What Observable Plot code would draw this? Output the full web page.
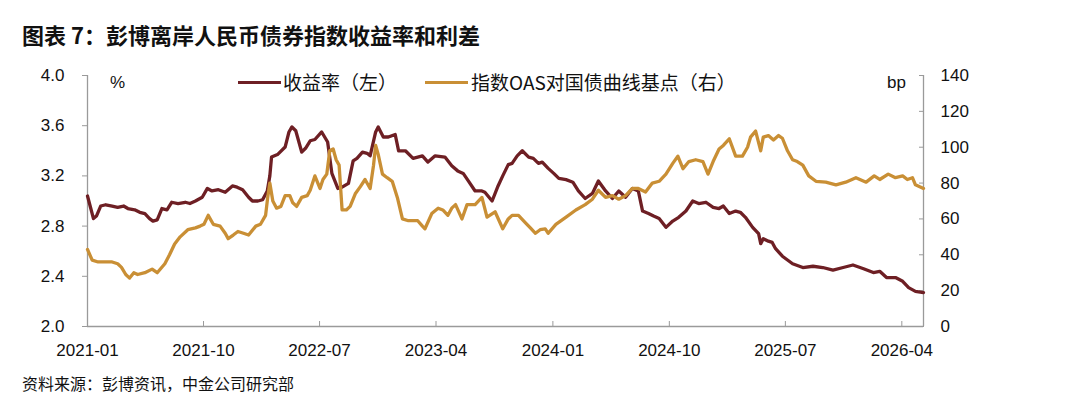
<!DOCTYPE html>
<html><head><meta charset="utf-8">
<script src="https://cdn.jsdelivr.net/npm/d3@7"></script>
<script src="https://cdn.jsdelivr.net/npm/@observablehq/plot@0.6"></script>
<style>
body{margin:0;background:#fff;}
#wrap{position:relative;width:1080px;height:413px;overflow:hidden;font-family:"Liberation Sans","Noto Sans CJK SC",sans-serif;}
.abs{position:absolute;white-space:nowrap;line-height:1;}
#title{left:22px;top:23px;font-size:22px;font-weight:bold;font-family:"Noto Sans CJK SC",sans-serif;color:#111;}
#chart{position:absolute;left:0;top:56px;}
.leg{font-size:19px;font-family:"Noto Sans CJK SC",sans-serif;color:#111;top:72px;}
.sw{position:absolute;height:3px;top:81px;width:43px;}
#src{left:22px;top:375px;font-size:16px;font-family:"Noto Sans CJK SC",sans-serif;color:#111;}
.unit{font-size:17px;top:74px;color:#111;}
</style></head>
<body><div id="wrap">
<div id="title" class="abs">图表 7：彭博离岸人民币债券指数收益率和利差</div>
<div id="chart"></div>
<div class="sw" style="left:238px;background:#6e1f24"></div>
<div class="abs leg" style="left:283px">收益率（左）</div>
<div class="sw" style="left:425px;background:#c98f35"></div>
<div class="abs leg" style="left:471px">指数OAS对国债曲线基点（右）</div>
<div class="abs unit" style="left:110px">%</div>
<div class="abs unit" style="left:887px">bp</div>
<div id="src" class="abs">资料来源：彭博资讯，中金公司研究部</div>
</div>
<script>
const yieldDates = ["2021-01-01","2021-01-08","2021-01-15","2021-01-22","2021-02-01","2021-02-13","2021-02-28","2021-03-13","2021-03-27","2021-04-06","2021-04-22","2021-05-04","2021-05-16","2021-05-27","2021-06-04","2021-06-14","2021-06-25","2021-07-07","2021-07-18","2021-08-02","2021-08-19","2021-08-30","2021-09-12","2021-09-28","2021-10-10","2021-10-21","2021-11-05","2021-11-21","2021-12-08","2021-12-19",
"2022-01-01","2022-01-15","2022-01-24","2022-02-06","2022-02-17","2022-02-28","2022-03-06","2022-03-10","2022-03-24","2022-04-11","2022-04-20","2022-04-27","2022-05-06","2022-05-20","2022-05-29","2022-06-09","2022-06-20","2022-07-06","2022-07-20","2022-07-30","2022-08-06","2022-08-13","2022-08-23","2022-09-07","2022-09-18","2022-09-27","2022-10-10","2022-10-21","2022-10-28","2022-11-10","2022-11-16","2022-11-28","2022-12-10","2022-12-26",
"2023-01-03","2023-01-19","2023-02-06","2023-02-17","2023-02-28","2023-03-13","2023-03-30","2023-04-22","2023-05-08","2023-05-22","2023-06-04","2023-06-16","2023-07-02","2023-07-18","2023-07-25","2023-08-11","2023-08-25","2023-09-05","2023-09-18","2023-09-27","2023-10-09","2023-10-21","2023-11-05","2023-11-16","2023-11-28","2023-12-07","2023-12-21",
"2024-01-03","2024-01-15","2024-02-01","2024-02-17","2024-03-01","2024-03-17","2024-04-03","2024-04-17","2024-05-04","2024-05-20","2024-06-04","2024-06-20","2024-07-06","2024-07-20","2024-07-30","2024-08-13","2024-08-25","2024-09-07","2024-09-23","2024-10-09","2024-10-23","2024-11-09","2024-11-25","2024-12-09","2024-12-26",
"2025-01-12","2025-01-26","2025-02-05","2025-02-19","2025-03-06","2025-03-17","2025-03-29","2025-04-15","2025-04-29","2025-05-04","2025-05-10","2025-05-22","2025-05-31","2025-06-08","2025-06-24","2025-07-06","2025-07-18","2025-08-11","2025-09-04","2025-09-27","2025-10-21","2025-11-14","2025-12-07",
"2026-01-01","2026-01-24","2026-02-08","2026-02-24","2026-03-17","2026-04-03","2026-04-17","2026-05-03","2026-05-22"];
const yieldValues = [3.04,2.95,2.86,2.88,2.96,2.97,2.96,2.95,2.96,2.94,2.93,2.91,2.90,2.86,2.84,2.85,2.94,2.93,2.99,2.98,2.99,2.98,3.00,3.03,3.10,3.08,3.09,3.07,3.12,3.11,
3.09,3.03,3.00,3.00,3.01,3.08,3.20,3.35,3.37,3.43,3.55,3.59,3.56,3.39,3.42,3.48,3.49,3.55,3.47,3.22,3.16,3.10,3.11,3.14,3.32,3.34,3.39,3.38,3.36,3.55,3.59,3.51,3.51,3.53,
3.40,3.40,3.34,3.35,3.36,3.31,3.36,3.35,3.28,3.24,3.22,3.16,3.08,3.08,3.07,3.00,3.12,3.20,3.29,3.30,3.36,3.40,3.35,3.34,3.30,3.31,3.26,
3.22,3.18,3.17,3.15,3.08,3.02,3.06,3.16,3.08,3.02,3.08,3.03,3.10,3.08,2.92,2.90,2.88,2.86,2.79,2.84,2.87,2.92,3.00,2.98,2.99,
2.95,2.94,2.96,2.90,2.92,2.91,2.87,2.79,2.74,2.66,2.70,2.68,2.67,2.62,2.56,2.53,2.50,2.47,2.48,2.47,2.45,2.47,2.49,
2.46,2.43,2.44,2.39,2.39,2.36,2.31,2.28,2.27];

const oasDates = ["2021-01-01","2021-01-12","2021-01-26","2021-02-13","2021-02-28","2021-03-13","2021-03-22","2021-04-01","2021-04-10","2021-04-20","2021-04-29","2021-05-16","2021-06-02","2021-06-14","2021-07-02","2021-07-13","2021-07-25","2021-08-07","2021-08-25","2021-09-12","2021-09-23","2021-10-02","2021-10-12","2021-10-24","2021-11-09","2021-11-21","2021-11-28","2021-12-10","2021-12-21",
"2022-01-03","2022-01-15","2022-02-01","2022-02-12","2022-02-24","2022-03-01","2022-03-06","2022-03-13","2022-03-22","2022-04-01","2022-04-11","2022-04-22","2022-04-29","2022-05-08","2022-05-20","2022-06-02","2022-06-09","2022-06-20","2022-07-02","2022-07-09","2022-07-18","2022-07-25","2022-08-02","2022-08-09","2022-08-16","2022-08-23","2022-09-02","2022-09-11","2022-09-23","2022-10-05","2022-10-16","2022-10-28","2022-11-05","2022-11-10","2022-11-16","2022-11-26","2022-12-07","2022-12-19","2022-12-31",
"2023-01-12","2023-01-26","2023-02-17","2023-02-28","2023-03-06","2023-03-22","2023-04-06","2023-04-17","2023-04-29","2023-05-08","2023-05-17","2023-06-01","2023-06-13","2023-07-02","2023-07-18","2023-07-30","2023-08-18","2023-09-05","2023-09-18","2023-09-27","2023-10-12","2023-10-28","2023-11-09","2023-11-21","2023-12-02","2023-12-14","2023-12-21",
"2024-01-08","2024-02-01","2024-02-24","2024-03-17","2024-04-03","2024-04-17","2024-05-04","2024-05-20","2024-06-04","2024-06-20","2024-07-06","2024-07-20","2024-08-06","2024-08-22","2024-09-07","2024-09-23","2024-10-09","2024-10-21","2024-11-02","2024-11-16","2024-12-02","2024-12-19","2024-12-31",
"2025-01-12","2025-01-26","2025-02-05","2025-02-19","2025-03-06","2025-03-22","2025-04-03","2025-04-10","2025-04-22","2025-05-04","2025-05-10","2025-05-22","2025-06-03","2025-06-15","2025-06-24","2025-07-06","2025-07-18","2025-07-29","2025-08-11","2025-08-25","2025-09-11","2025-10-04","2025-10-28","2025-11-20","2025-12-14",
"2026-01-07","2026-01-26","2026-02-08","2026-02-28","2026-03-17","2026-04-03","2026-04-14","2026-04-26","2026-05-03","2026-05-22"];
const oasValues = [43,37,36,36,36,35,33,29,27,30,29,30,32,30,35,40,46,50,54,55,56,57,62,57,56,52,49,51,53,
52,51,56,57,62,72,80,70,66,67,73,73,69,67,72,73,76,84,77,82,85,98,99,93,90,65,65,67,74,78,82,77,90,101,96,85,83,81,72,
60,59,59,56,54.5,63,66,65,62,66,68,60,68,68,72,61,64,54.5,60,62,62,58,55,52,54,54.5,52,
57,61,65,68,71,76,72,73,71,73,77,77,75,80,81,85,91,95,88,92,93,92,85,
92,99,101,104.7,95,95,100,105.6,109,98,105.6,106.5,104,106.5,105,98,93,92,90,84,81,80.5,79,80.5,83,
80.5,84,82,85,83,84,82,83,79,77];

const xTickLabels = ["2021-01","2021-10","2022-07","2023-04","2024-01","2024-10","2025-07","2026-04"];
const leftTicks = [2.0,2.4,2.8,3.2,3.6,4.0];
const rightTicks = [0,20,40,60,80,100,120,140];
const xDomain = ["2021-01-01","2026-05-22"];

const parse = d3.utcParse("%Y-%m-%d");
const parseM = d3.utcParse("%Y-%m");
// secondary (bp) axis maps 0..140 onto the left 2.0..4.0 range
const toLeft = b => 2 + b * (leftTicks[leftTicks.length-1]-leftTicks[0]) / rightTicks[rightTicks.length-1];
const fromLeft = v => (v - 2) * rightTicks[rightTicks.length-1] / (leftTicks[leftTicks.length-1]-leftTicks[0]);

const yieldData = yieldDates.map((d,i)=>({date:parse(d), v:yieldValues[i]}));
const oasData = oasDates.map((d,i)=>({date:parse(d), v:oasValues[i]}));
const xd = xDomain.map(parse);

const axisGray = "#9a9a9a";
const chart = Plot.plot({
  width:1080, height:310,
  marginTop:19, marginBottom:40, marginLeft:87, marginRight:157,
  style:{fontFamily:'"Liberation Sans","Noto Sans CJK SC",sans-serif', fontSize:"17px", color:"#111", background:"transparent"},
  x:{type:"utc", domain:xd},
  y:{domain:[leftTicks[0], leftTicks[leftTicks.length-1]]},
  marks:[
    Plot.ruleY([leftTicks[0]], {stroke:axisGray, strokeWidth:1.3}),
    Plot.ruleX([xd[0]], {stroke:axisGray, strokeWidth:1.3}),
    Plot.ruleX([xd[1]], {stroke:axisGray, strokeWidth:1.3}),
    Plot.axisX(xTickLabels.map(parseM), {anchor:"bottom", tickFormat:d3.utcFormat("%Y-%m"), tickSize:-5, tickPadding:22, stroke:axisGray, fill:"#111", label:null}),
    Plot.axisY(leftTicks, {anchor:"left", tickFormat:d=>d.toFixed(1), tickSize:5, tickPadding:18, stroke:axisGray, fill:"#111", label:null, style:{letterSpacing:"1.5px"}}),
    Plot.axisY(rightTicks.map(toLeft), {anchor:"right", tickFormat:d=>String(Math.round(fromLeft(d))), tickSize:-5, tickPadding:22, stroke:axisGray, fill:"#111", label:null}),
    Plot.line(yieldData, {x:"date", y:"v", stroke:"#6e1f24", strokeWidth:3.3, strokeLinejoin:"round"}),
    Plot.line(oasData, {x:"date", y:d=>toLeft(d.v), stroke:"#c98f35", strokeWidth:3.3, strokeLinejoin:"round"})
  ]
});
document.getElementById("chart").appendChild(chart);
</script>
</body></html>
